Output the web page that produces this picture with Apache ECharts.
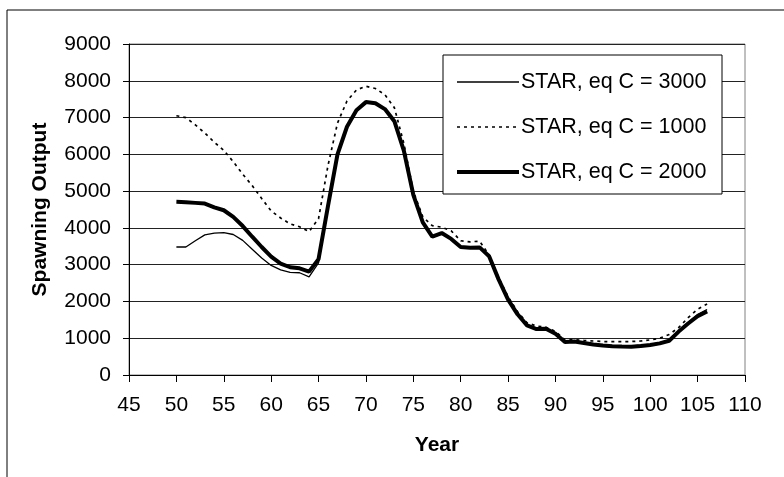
<!DOCTYPE html>
<html><head><meta charset="utf-8">
<script src="https://cdn.jsdelivr.net/npm/echarts@6/dist/echarts.min.js"></script>
<style>html,body{margin:0;padding:0;background:#fff}#c{width:784px;height:477px}</style>
</head><body><div id="c"></div>
<script>
const years = [50,51,52,53,54,55,56,57,58,59,60,61,62,63,64,65,66,67,68,69,70,71,72,73,74,75,76,77,78,79,80,81,82,83,84,85,86,87,88,89,90,91,92,93,94,95,96,97,98,99,100,101,102,103,104,105,106];
const starC3000 = [3480,3480,3650,3810,3860,3870,3820,3660,3420,3180,2980,2860,2790,2780,2670,3050,4550,5980,6720,7180,7400,7370,7210,6880,6080,4880,4130,3740,3840,3690,3470,3450,3460,3220,2590,2040,1640,1340,1250,1250,1110,900,900,870,840,810,800,795,790,810,835,880,950,1200,1430,1640,1780];
const starC1000 = [7050,7000,6800,6580,6330,6110,5800,5460,5150,4800,4460,4270,4110,4030,3900,4250,5700,6850,7450,7750,7850,7790,7620,7270,6300,5000,4300,4060,4020,3920,3650,3620,3640,3260,2650,2130,1720,1420,1330,1300,1180,960,960,940,925,910,905,905,910,925,955,1000,1100,1290,1560,1790,1930];
const starC2000 = [4710,4700,4680,4660,4560,4480,4300,4050,3760,3480,3220,3030,2930,2900,2810,3150,4600,6000,6750,7200,7420,7390,7230,6900,6100,4900,4150,3760,3860,3700,3480,3460,3470,3230,2600,2050,1650,1350,1250,1260,1120,900,910,870,830,800,785,775,770,790,815,860,930,1180,1400,1600,1730];
const seriesNames = ['STAR, eq C = 3000','STAR, eq C = 1000','STAR, eq C = 2000'];
const xTicks = {min:45, max:110, interval:5};
const yTicks = {min:0, max:9000, interval:1000};
const xTitle = 'Year';
const yTitle = 'Spawning Output';

const FONT = '"Liberation Sans", Arial, sans-serif';
const pair = arr => years.map((y,i)=>[y, arr[i]]);
const chart = echarts.init(document.getElementById('c'), null, {renderer:'canvas'});
chart.setOption({
  animation:false,
  backgroundColor:'#fff',
  textStyle:{fontFamily:FONT},
  grid:{left:129, right:39, top:44, bottom:102, show:true, borderColor:'#808080', borderWidth:1, backgroundColor:'transparent'},
  graphic:[
    {type:'rect', shape:{x:7, y:10, width:820, height:520}, style:{fill:'none', stroke:'#000', lineWidth:1}, z:-10, silent:true},
    {type:'rect', shape:{x:443, y:55, width:279, height:139}, style:{fill:'#fff', stroke:'#000', lineWidth:1}, z:50, silent:true}
  ],
  legend:{
    orient:'vertical', left:443, top:55, z:60,
    padding:[15,12,10,12], itemGap:21, itemWidth:62, itemHeight:24,
    itemStyle:{opacity:0},
    lineStyle:{width:'inherit', type:'inherit'},
    textStyle:{fontFamily:FONT, fontSize:21.5, color:'#000', padding:[0,0,0,-3], lineHeight:24},
    data:seriesNames
  },
  xAxis:{
    type:'value', min:xTicks.min, max:xTicks.max, interval:xTicks.interval,
    name:xTitle, nameLocation:'middle', nameGap:60,
    nameTextStyle:{fontFamily:FONT, fontSize:21, fontWeight:'bold', color:'#000'},
    axisLine:{lineStyle:{color:'#000', width:1}},
    axisTick:{show:true, inside:false, length:7, lineStyle:{color:'#000'}},
    axisLabel:{fontFamily:FONT, fontSize:21, color:'#000', margin:20},
    splitLine:{show:false}
  },
  yAxis:{
    type:'value', min:yTicks.min, max:yTicks.max, interval:yTicks.interval,
    name:yTitle, nameLocation:'middle', nameGap:78, nameRotate:90,
    nameTextStyle:{fontFamily:FONT, fontSize:21, fontWeight:'bold', color:'#000'},
    axisLine:{show:true, lineStyle:{color:'#000', width:1}},
    axisTick:{show:true, inside:false, length:6, lineStyle:{color:'#000'}},
    axisLabel:{fontFamily:FONT, fontSize:21, color:'#000', margin:18, formatter: v => String(v)},
    splitLine:{show:true, lineStyle:{color:'#222', width:1}}
  },
  series:[
    {name:seriesNames[0], type:'line', data:pair(starC3000), symbol:'none', lineStyle:{color:'#000', width:1.3, type:'solid'}, itemStyle:{color:'#000'}, z:3},
    {name:seriesNames[1], type:'line', data:pair(starC1000), symbol:'none', lineStyle:{color:'#000', width:1.7, type:[3,4]}, itemStyle:{color:'#000'}, z:2},
    {name:seriesNames[2], type:'line', data:pair(starC2000), symbol:'none', lineStyle:{color:'#000', width:4, type:'solid'}, itemStyle:{color:'#000'}, z:2}
  ]
});
</script></body></html>
